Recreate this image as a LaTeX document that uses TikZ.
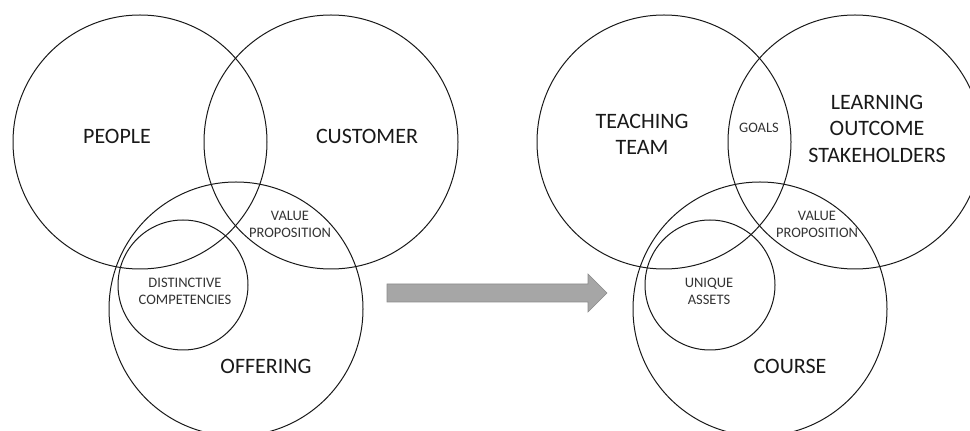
\documentclass[tikz,border=0pt]{standalone}
\usepackage{fontspec}
\setmainfont{Carlito}
\usetikzlibrary{calc}
\colorlet{linegray}{black!90}
\colorlet{arrowgray}{black!35}
\tikzset{
	venn/.style={draw=linegray,line width=1pt},
	biglabel/.style={font=\fontsize{22}{26.5}\selectfont,align=center,text=black!90,inner sep=0},
	smalllabel/.style={font=\fontsize{14.5}{17}\selectfont,align=center,text=black!80,inner sep=0},
}

\begin{document}
\begin{tikzpicture}[x=1pt,y=1pt]
	
	\def\R{127}   % big circle radius
	\def\r{65}    % small circle radius
	\useasboundingbox (0,0) rectangle (970,431);
	\clip (0,0) rectangle (970,431);
	
	% LEFT CIRCLES
	\coordinate (Pe) at (140,289);
	\coordinate (Cu) at (331,289);
	\coordinate (Of) at (236,122);
	\coordinate (Dc) at (183,146);
	\draw[venn] (Pe) circle (\R pt);
	\draw[venn] (Cu) circle (\R pt);
	\draw[venn] (Of) circle (\R pt);
	\draw[venn] (Dc) circle (\r pt);
	
	% RIGHT CIRCLES
	\coordinate (Tt) at (664,289);
	\coordinate (Lo) at (855,289);
	\coordinate (Co) at (760,122);
	\coordinate (Ua) at (710,146);
	\draw[venn] (Tt) circle (\R pt);
	\draw[venn] (Lo) circle (\R pt);
	\draw[venn] (Co) circle (\R pt);
	\draw[venn] (Ua) circle (\r pt);
	
	% LABELS
	\node[biglabel] (people) at (117,295) {PEOPLE};
	\node[biglabel] (customer) at (367,295) {CUSTOMER};
	\node[biglabel] (offering) at (266,65) {OFFERING};
	\node[smalllabel] (valueL) at (290,206.5) {VALUE\\PROPOSITION};
	\node[smalllabel] (distinct) at (185,139.5) {DISTINCTIVE\\COMPETENCIES};
	
	\node[biglabel] (team) at (642,296.5) {TEACHING\\TEAM};
	\node[smalllabel] (goals) at (759,303) {GOALS};
	\node[biglabel] (stake) at (877,302.5) {LEARNING\\OUTCOME\\STAKEHOLDERS};
	\node[smalllabel] (valueR) at (817,206.5) {VALUE\\PROPOSITION};
	\node[smalllabel] (unique) at (709,139.5) {UNIQUE\\ASSETS};
	\node[biglabel] (course) at (790,65) {COURSE};
	
	% ARROW
	\fill[arrowgray,draw=black!45,line width=0.6pt]
	(387,129) -- (588,129) -- (588,119) -- (607,138) -- (588,157) -- (588,147) -- (387,147) -- cycle;
	
\end{tikzpicture}
\end{document}
